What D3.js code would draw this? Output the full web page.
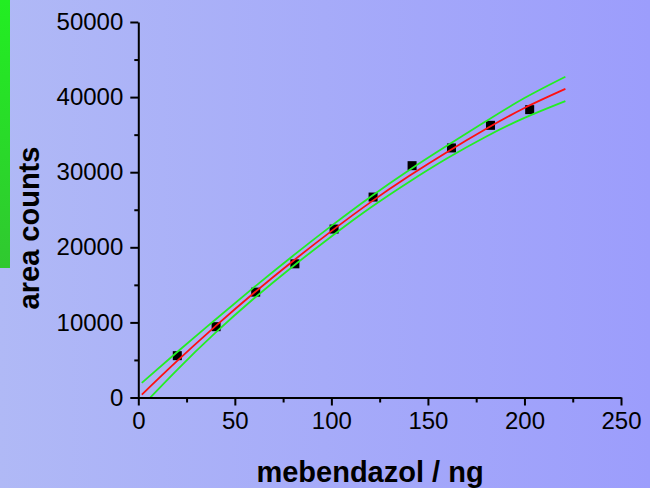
<!DOCTYPE html>
<html>
<head>
<meta charset="utf-8">
<script src="https://cdn.jsdelivr.net/npm/d3@7"></script>
<style>
  html, body { margin: 0; padding: 0; background: #a5abf8; }
  svg { display: block; }
  text { font-family: "Liberation Sans", Arial, sans-serif; }
</style>
</head>
<body>
<svg id="chart" width="650" height="488"></svg>
<script>
// ---- data ----
const amountNg   = [20.2, 40.3, 60.8, 81.1, 101.4, 121.6, 141.8, 162.2, 182.4, 202.7];
const areaCounts = [5570, 9430, 14030, 17800, 22430, 26690, 30870, 33230, 36240, 38330];

const curveX     = [1.8, 20, 40, 60, 80, 100, 120, 140, 160, 180, 200, 221.2];
const fitCounts  = [380, 4840, 9510, 13950, 18150, 22150, 25950, 29450, 32700, 35750, 38550, 41090];
const upperBand  = [1950, 6020, 10390, 14690, 18850, 22850, 26670, 30230, 33550, 36770, 39870, 42710];
const lowerBand  = [-1190, 3660, 8630, 13210, 17450, 21450, 25230, 28670, 31850, 34730, 37230, 39470];

const xTicks = [0, 50, 100, 150, 200, 250];
const xMinorTicks = [25, 75, 125, 175, 225];
const yTicks = [0, 10000, 20000, 30000, 40000, 50000];
const yMinorTicks = [5000, 15000, 25000, 35000, 45000];

const xTitle = "mebendazol / ng";
const yTitle = "area counts";

// ---- drawing ----
const svg = d3.select("#chart");
const W = 650, H = 488;

const defs = svg.append("defs");
const bg = defs.append("linearGradient").attr("id", "bg").attr("x1", "0").attr("x2", "1").attr("y1", "0").attr("y2", "0");
bg.append("stop").attr("offset", "0%").attr("stop-color", "#b0b9f6");
bg.append("stop").attr("offset", "100%").attr("stop-color", "#9c9dfc");
const gb = defs.append("linearGradient").attr("id", "gbar").attr("x1", "0").attr("x2", "0").attr("y1", "0").attr("y2", "1");
gb.append("stop").attr("offset", "0%").attr("stop-color", "#22ee22");
gb.append("stop").attr("offset", "100%").attr("stop-color", "#30c830");

svg.append("rect").attr("width", W).attr("height", H).attr("fill", "url(#bg)");
svg.append("rect").attr("x", 0).attr("y", 0).attr("width", 10).attr("height", 268).attr("fill", "url(#gbar)");

const x = d3.scaleLinear().domain([0, 250]).range([138.3, 621]);
const y = d3.scaleLinear().domain([0, 50000]).range([397.5, 22]);

defs.append("clipPath").attr("id", "plotclip")
  .append("rect")
  .attr("x", x(0)).attr("y", y(50000))
  .attr("width", x(250) - x(0)).attr("height", y(0) - y(50000));

// points (drawn beneath the lines)
const ps = 9;
svg.append("g").selectAll("rect")
  .data(amountNg.map((d, i) => [d, areaCounts[i]]))
  .join("rect")
  .attr("x", d => x(d[0]) - ps / 2)
  .attr("y", d => y(d[1]) - ps / 2)
  .attr("width", ps).attr("height", ps)
  .attr("fill", "#000");

const line = (arr) => d3.line()
  .x((d, i) => x(curveX[i]))
  .y(d => y(d))
  .curve(d3.curveNatural)(arr);

const lines = svg.append("g").attr("clip-path", "url(#plotclip)");
lines.append("path").attr("d", line(upperBand)).attr("fill", "none").attr("stroke", "#22ee22").attr("stroke-width", 1.8);
lines.append("path").attr("d", line(lowerBand)).attr("fill", "none").attr("stroke", "#22ee22").attr("stroke-width", 1.8);
lines.append("path").attr("d", line(fitCounts)).attr("fill", "none").attr("stroke", "#ff1010").attr("stroke-width", 1.8);

// axes
const fmt = d3.format("d");
const gx = svg.append("g").attr("transform", `translate(0,${y(0)})`)
  .call(d3.axisBottom(x).tickValues(xTicks).tickFormat(fmt).tickSize(8).tickPadding(6).tickSizeOuter(0));
const gxm = svg.append("g").attr("transform", `translate(0,${y(0)})`)
  .call(d3.axisBottom(x).tickValues(xMinorTicks).tickFormat("").tickSize(5).tickSizeOuter(0));
const gy = svg.append("g").attr("transform", `translate(${x(0)},0)`)
  .call(d3.axisLeft(y).tickValues(yTicks).tickFormat(fmt).tickSize(8).tickPadding(7).tickSizeOuter(0));
const gym = svg.append("g").attr("transform", `translate(${x(0)},0)`)
  .call(d3.axisLeft(y).tickValues(yMinorTicks).tickFormat("").tickSize(4).tickSizeOuter(0));

[gx, gxm, gy, gym].forEach(g => {
  g.selectAll("path.domain").attr("stroke", "#000").attr("stroke-width", 2);
  g.selectAll(".tick line").attr("stroke", "#000").attr("stroke-width", 2);
  g.selectAll(".tick text").attr("fill", "#000").style("font-size", "24px")
    .style("font-family", '"Liberation Sans", Arial, sans-serif');
});
gxm.select("path.domain").remove();
gym.select("path.domain").remove();

// titles
svg.append("text")
  .attr("x", 370).attr("y", 482)
  .attr("text-anchor", "middle")
  .style("font-size", "29px").style("font-weight", "bold")
  .attr("fill", "#000")
  .text(xTitle);

svg.append("text")
  .attr("transform", "translate(39,228) rotate(-90)")
  .attr("text-anchor", "middle")
  .style("font-size", "29px").style("font-weight", "bold")
  .attr("fill", "#000")
  .text(yTitle);
</script>
</body>
</html>
